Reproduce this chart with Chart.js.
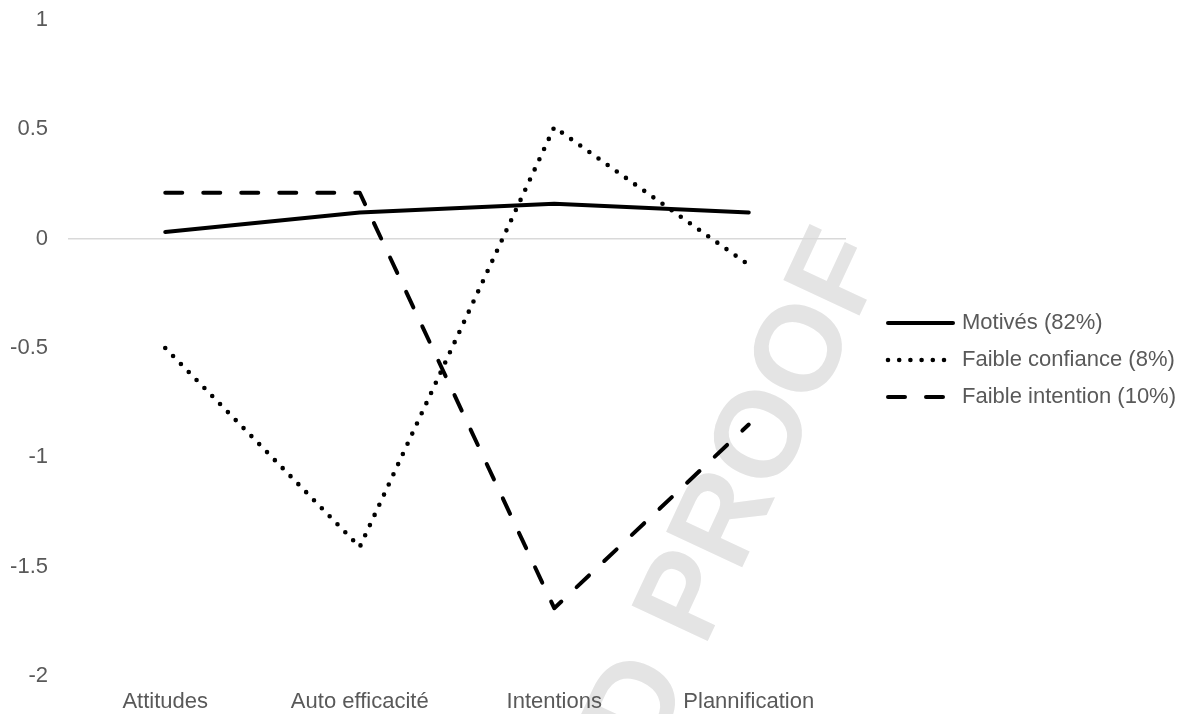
<!DOCTYPE html>
<html lang="fr">
<head>
<meta charset="utf-8">
<title>Profils motivationnels</title>
<script src="https://cdn.jsdelivr.net/npm/chart.js@4.4.1/dist/chart.umd.min.js"></script>
<style>
  html, body { margin: 0; padding: 0; background: #ffffff; }
  #wrap { position: relative; width: 1184px; height: 714px; }
</style>
</head>
<body>
<div id="wrap"><canvas id="chart"></canvas></div>
<script>
// Profile categories (x axis)
const categories = ['Attitudes', 'Auto efficacité', 'Intentions', 'Plannification'];

// Standardised scores per profile
const motives = [0.03, 0.12, 0.16, 0.12];
const faibleConfiance = [-0.50, -1.41, 0.51, -0.12];
const faibleIntention = [0.21, 0.21, -1.69, -0.85];

// Legend labels
const seriesLabels = ['Motivés (82%)', 'Faible confiance (8%)', 'Faible intention (10%)'];

// Y axis ticks
const yTicks = [-2, -1.5, -1, -0.5, 0, 0.5, 1];

const textColor = '#595959';
const fontFamily = '"Liberation Sans", Arial, sans-serif';
const fontSize = 22;

// Light diagonal stamp behind the plot
const stampPlugin = {
  id: 'stamp',
  beforeDraw(chart) {
    const ctx = chart.ctx;
    const size = 122;
    ctx.save();
    ctx.fillStyle = '#e4e4e4';
    ctx.font = 'bold ' + size + 'px ' + fontFamily;
    ctx.translate(848, 237);
    ctx.rotate(-65 * Math.PI / 180);
    ctx.textAlign = 'right';
    ctx.textBaseline = 'alphabetic';
    ctx.fillText('UNCORRECTED PROOF', 0, size * 0.716 / 2);
    ctx.restore();
  }
};

// Legend to the right of the plot: a line sample in each series' style, then its label
const sideLegendPlugin = {
  id: 'sideLegend',
  afterDraw(chart) {
    const ctx = chart.ctx;
    const area = chart.chartArea;
    const x0 = area.right + 42;
    const sampleWidth = 65;
    const rowGap = 37;
    const midY = (area.top + area.bottom) / 2 + 12;
    const sets = chart.data.datasets;
    sets.forEach((ds, i) => {
      const y = midY + (i - (sets.length - 1) / 2) * rowGap;
      ctx.save();
      ctx.strokeStyle = ds.borderColor;
      ctx.lineWidth = ds.borderWidth;
      ctx.lineCap = 'round';
      ctx.setLineDash(ds.borderDash || []);
      ctx.beginPath();
      ctx.moveTo(x0, y);
      ctx.lineTo(x0 + sampleWidth, y);
      ctx.stroke();
      ctx.setLineDash([]);
      ctx.fillStyle = textColor;
      ctx.font = fontSize + 'px ' + fontFamily;
      ctx.textAlign = 'left';
      ctx.textBaseline = 'middle';
      ctx.fillText(ds.label, x0 + sampleWidth + 9, y);
      ctx.restore();
    });
  }
};

const lineStyle = {
  borderColor: '#000000',
  backgroundColor: '#000000',
  borderWidth: 4,
  borderCapStyle: 'round',
  borderJoinStyle: 'round',
  pointRadius: 0,
  pointHoverRadius: 0,
  tension: 0,
  fill: false
};

new Chart(document.getElementById('chart'), {
  type: 'line',
  data: {
    labels: categories,
    datasets: [
      Object.assign({}, lineStyle, { label: seriesLabels[0], data: motives, borderDash: [] }),
      Object.assign({}, lineStyle, { label: seriesLabels[1], data: faibleConfiance, borderDash: [0, 11.2], borderWidth: 4.6 }),
      Object.assign({}, lineStyle, { label: seriesLabels[2], data: faibleIntention, borderDash: [17, 21] })
    ]
  },
  plugins: [stampPlugin, sideLegendPlugin],
  options: {
    responsive: true,
    maintainAspectRatio: false,
    animation: false,
    events: [],
    layout: { padding: { top: 20, left: 0, right: 338, bottom: 0 } },
    plugins: {
      tooltip: { enabled: false },
      legend: { display: false }
    },
    scales: {
      x: {
        offset: true,
        border: { display: false },
        grid: { display: false, drawTicks: false },
        ticks: {
          padding: 13,
          color: textColor,
          font: { family: fontFamily, size: fontSize },
          maxRotation: 0,
          autoSkip: false
        },
        afterFit(scale) { scale.height = 38; }
      },
      y: {
        min: -2,
        max: 1,
        border: { display: false },
        afterBuildTicks(scale) { scale.ticks = yTicks.map(v => ({ value: v })); },
        grid: {
          drawTicks: false,
          color: ctx => (ctx.tick && ctx.tick.value === 0 ? '#d9d9d9' : 'rgba(0,0,0,0)'),
          lineWidth: 1.5
        },
        ticks: {
          padding: 20,
          color: textColor,
          font: { family: fontFamily, size: fontSize },
          callback: v => String(v)
        },
        afterFit(scale) {
          scale.width = 68;
          scale.paddingTop = 0;
          scale.paddingBottom = 0;
        }
      }
    }
  }
});
</script>
</body>
</html>
